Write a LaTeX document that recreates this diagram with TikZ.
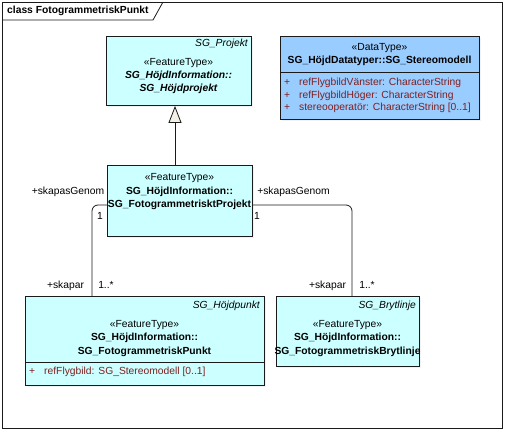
\documentclass[tikz,border=0pt]{standalone}
\usepackage{fontspec}
\setmainfont{Liberation Sans}
\usetikzlibrary{arrows.meta,shadows}

\definecolor{classfill}{HTML}{CCFFFF}
\definecolor{datafill}{HTML}{99CCFF}
\definecolor{linec}{HTML}{1A1A1A}
\definecolor{attrc}{HTML}{802020}
\definecolor{tipfill}{HTML}{F4F0E6}
\newcommand\eafont{\fontsize{10.3}{12}\selectfont}

\begin{document}
\begin{tikzpicture}[x=1pt, y=-1pt,
    box/.style={draw=linec, line width=0.9pt, anchor=north west, inner sep=0pt,
      drop shadow={shadow xshift=2pt, shadow yshift=-2pt, fill=black!10}},
    featbox/.style={box, fill=classfill},
    databox/.style={box, fill=datafill},
    txt/.style={inner sep=0pt, font=\eafont, text height=7.5pt, text depth=2pt},
    bold/.style={txt, font=\eafont\bfseries},
    bolditalic/.style={txt, font=\eafont\bfseries\itshape},
    abstractname/.style={txt, font=\eafont\itshape, anchor=east},
    attr/.style={txt, text=attrc, anchor=west},
    sep/.style={draw=linec, line width=0.9pt},
    assoc/.style={draw=linec, line width=0.8pt, rounded corners=6pt},
    gen/.style={draw=linec, line width=0.8pt,
      -{Triangle[length=17pt, width=13pt, fill=tipfill, line width=0.8pt]}}]
  \useasboundingbox (0,0) rectangle (505,430);

  % frame and tab
  \draw[linec, line width=0.8pt] (2,2) rectangle (502,428);
  \draw[linec, line width=0.8pt] (2,20) -- (153,20) -- (163,2);
  \node[txt, font=\eafont\bfseries, anchor=west] (title) at (7,11) {class FotogrammetriskPunkt};

  % class boxes
  \node[featbox, minimum width=145pt, minimum height=69pt] (projekt) at (106,36) {};
  \node[databox, minimum width=199pt, minimum height=83pt] (stereo) at (280,36) {};
  \node[featbox, minimum width=145pt, minimum height=71pt] (fotoprojekt) at (107,165) {};
  \node[featbox, minimum width=239pt, minimum height=89pt] (hojdpunkt) at (25,296) {};
  \node[featbox, minimum width=143pt, minimum height=70pt] (brytlinje) at (276,296) {};

  % SG_Projekt
  \node[abstractname] (projektname) at (248,44) {SG\_Projekt};
  \node[txt] (projektst) at (178.5,63) {«FeatureType»};
  \node[bolditalic] (projektn1) at (178.5,76) {SG\_HöjdInformation::};
  \node[bolditalic] (projektn2) at (178.5,89) {SG\_Höjdprojekt};

  % SG_Stereomodell
  \node[txt] (stereost) at (379.5,48) {«DataType»};
  \node[bold] (stereon) at (379.5,61) {SG\_HöjdDatatyper::SG\_Stereomodell};
  \draw[sep] (stereo.west |- 0,72) -- (stereo.east |- 0,72);
  \node[attr] (stereoa1) at (284,83) {+\hspace{9pt}refFlygbildVänster: CharacterString};
  \node[attr] (stereoa2) at (284,96) {+\hspace{9pt}refFlygbildHöger: CharacterString};
  \node[attr] (stereoa3) at (284,108) {+\hspace{9pt}stereooperatör: CharacterString [0..1]};

  % SG_FotogrammetrisktProjekt
  \node[txt] (fotost) at (179.5,178) {«FeatureType»};
  \node[bold] (foton1) at (179.5,192) {SG\_HöjdInformation::};
  \node[bold] (foton2) at (179.5,205) {SG\_FotogrammetrisktProjekt};

  % SG_Hojdpunkt
  \node[abstractname] (punktname) at (260,306) {SG\_Höjdpunkt};
  \node[txt] (punktst) at (144.5,325) {«FeatureType»};
  \node[bold] (punktn1) at (144.5,338) {SG\_HöjdInformation::};
  \node[bold] (punktn2) at (144.5,352) {SG\_FotogrammetriskPunkt};
  \draw[sep] (hojdpunkt.west |- 0,362) -- (hojdpunkt.east |- 0,362);
  \node[attr] (punkta1) at (29,372) {+\hspace{9pt}refFlygbild: SG\_Stereomodell [0..1]};

  % SG_Brytlinje
  \node[abstractname] (brytname) at (416,306) {SG\_Brytlinje};
  \node[txt] (brytst) at (347.5,325) {«FeatureType»};
  \node[bold] (brytn1) at (347.5,338) {SG\_HöjdInformation::};
  \node[bold] (brytn2) at (347.5,352) {SG\_FotogrammetriskBrytlinje};

  % generalization
  \coordinate (genx) at (175,0);
  \draw[gen] (genx |- fotoprojekt.north) -- (genx |- projekt.south);

  % associations
  \coordinate (kneeL) at (92,205);
  \coordinate (kneeR) at (352,205);
  \draw[assoc] (kneeL -| fotoprojekt.west) -- (kneeL) -- (kneeL |- hojdpunkt.north);
  \draw[assoc] (kneeR -| fotoprojekt.east) -- (kneeR) -- (kneeR |- brytlinje.north);

  % role names and multiplicities
  \node[txt] (roleL1) at (68,192) {+skapasGenom};
  \node[txt] (multL1) at (100,217) {1};
  \node[txt] (roleL2) at (65.5,286) {+skapar};
  \node[txt] (multL2) at (106,286) {1..*};
  \node[txt] (roleR1) at (293.5,192) {+skapasGenom};
  \node[txt] (multR1) at (257,217) {1};
  \node[txt] (roleR2) at (327.5,286) {+skapar};
  \node[txt] (multR2) at (367,286) {1..*};
\end{tikzpicture}
\end{document}
